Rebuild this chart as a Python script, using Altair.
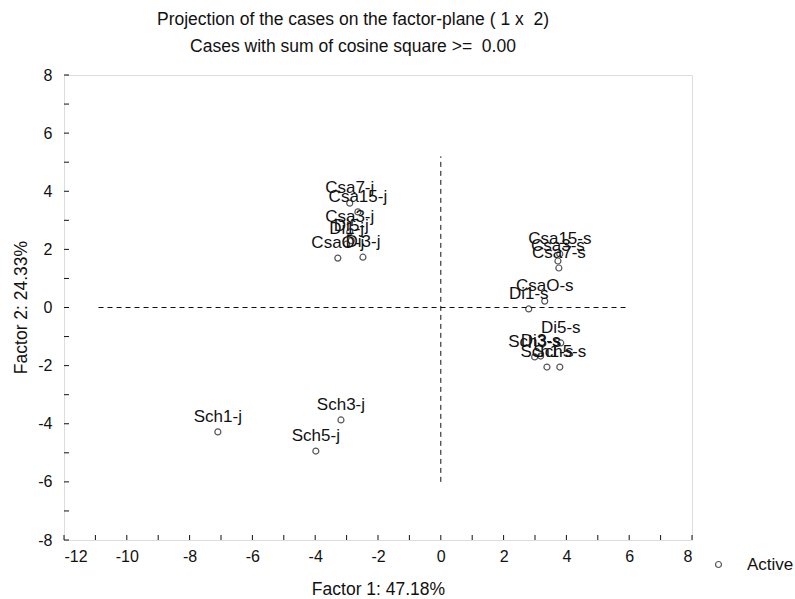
import altair as alt
import pandas as pd

# Case labels and their coordinates on factors 1 and 2
case_names = [
    "Sch1-j", "Sch3-j", "Sch5-j", "CsaO-j", "Di3-j",
    "Csa7-j", "Csa15-j", "Csa3-j", "Di5-j", "Di1-j",
    "Csa15-s", "Csa3-s", "Csa7-s", "CsaO-s", "Di1-s",
    "Di5-s", "Di3-s", "Sch3-s", "Sch1-s", "Sch5-s",
]
factor1 = [
    -7.10, -3.18, -3.98, -3.28, -2.48,
    -2.90, -2.64, -2.90, -2.85, -3.00,
    3.79, 3.73, 3.76, 3.31, 2.80,
    3.82, 3.18, 2.99, 3.38, 3.79,
]
factor2 = [
    -4.28, -3.87, -4.94, 1.70, 1.73,
    3.59, 3.29, 2.60, 2.30, 2.18,
    1.84, 1.60, 1.36, 0.22, -0.05,
    -1.22, -1.67, -1.70, -2.05, -2.05,
]
status = ["Active"] * len(case_names)

# Reference cross through the origin
h_line = {"x": -10.9, "x2": 6.0, "y": 0.0, "y2": 0.0}
v_line = {"x": 0.0, "x2": 0.0, "y": -6.0, "y2": 5.2}

x_ticks = list(range(-12, 9))
y_ticks = list(range(-8, 9))
x_labels = list(range(-12, 9, 2))
y_labels = list(range(-8, 9, 2))

NBSP = "\u00a0"
title_lines = [
    "Projection of the cases on the factor-plane ( 1 x" + NBSP + NBSP + "2)",
    "Cases with sum of cosine square >=" + NBSP + NBSP + "0.00",
]

FONT = "Liberation Sans"
INK = "#111111"

cases = pd.DataFrame({"name": case_names, "f1": factor1, "f2": factor2, "status": status})
cross = pd.DataFrame([h_line, v_line])
xt = pd.DataFrame({"v": x_ticks})
yt = pd.DataFrame({"v": y_ticks})

xscale = alt.Scale(domain=[-12, 8], nice=False, zero=False)
yscale = alt.Scale(domain=[-8, 8], nice=False, zero=False)

# plain hyphen for negative tick labels
plain_label = "'' + datum.value"

x_axis = alt.Axis(
    values=x_labels, ticks=False, domain=False, grid=False, labelExpr=plain_label,
    labelFont=FONT, labelFontSize=16, labelColor=INK, labelPadding=8,
    title="Factor 1: 47.18%", titleFont=FONT, titleFontSize=17.5,
    titleFontWeight="normal", titleColor=INK,
    titleX=314, titleY=54, titleBaseline="alphabetic",
)
y_axis = alt.Axis(
    values=y_labels, ticks=False, domain=False, grid=False, labelExpr=plain_label,
    labelFont=FONT, labelFontSize=16, labelColor=INK, labelPadding=12,
    title="Factor 2: 24.33%", titleFont=FONT, titleFontSize=17.5,
    titleFontWeight="normal", titleColor=INK,
    titleX=-38, titleY=232, titleAngle=270, titleBaseline="alphabetic",
)

points = alt.Chart(cases).mark_point(
    shape="circle", filled=False, size=36, strokeWidth=1.2
).encode(
    x=alt.X("f1:Q", scale=xscale, axis=x_axis),
    y=alt.Y("f2:Q", scale=yscale, axis=y_axis),
    color=alt.Color(
        "status:N",
        scale=alt.Scale(domain=["Active"], range=["#111111"]),
        legend=alt.Legend(
            title=None, orient="none", legendX=646, legendY=481,
            symbolType="circle", symbolSize=36, symbolStrokeWidth=1.2,
            labelFont=FONT, labelFontSize=17, labelColor=INK, labelOffset=20,
            padding=0,
        ),
    ),
)

labels = alt.Chart(cases).mark_text(
    font=FONT, fontSize=17, color=INK, align="center", baseline="alphabetic", dy=-10
).encode(
    x=alt.X("f1:Q", scale=xscale),
    y=alt.Y("f2:Q", scale=yscale),
    text="name:N",
)

dashed = alt.Chart(cross).mark_rule(
    color=INK, strokeWidth=1, strokeDash=[5, 4]
).encode(
    x=alt.X("x:Q", scale=xscale), x2="x2:Q",
    y=alt.Y("y:Q", scale=yscale), y2="y2:Q",
)

# Inward tick marks on the bottom and left frame edges
x_tick_marks = alt.Chart(xt).mark_rule(color=INK, strokeWidth=1).encode(
    x=alt.X("v:Q", scale=xscale), y=alt.value(465), y2=alt.value(460)
)
y_tick_marks = alt.Chart(yt).mark_rule(color=INK, strokeWidth=1).encode(
    y=alt.Y("v:Q", scale=yscale), x=alt.value(0), x2=alt.value(5)
)

chart = alt.layer(dashed, x_tick_marks, y_tick_marks, points, labels).properties(
    width=628,
    height=465,
    autosize=alt.AutoSizeParams(type="none"),
    padding={"left": 64, "top": 75, "right": 103, "bottom": 59},
    title=alt.TitleParams(
        text=title_lines,
        font=FONT, fontSize=17.5, fontWeight="normal", color=INK,
        anchor="middle", dx=-25, lineHeight=27, offset=12,
    ),
).configure_view(
    stroke="#111111", strokeWidth=1
).configure(background="white")

chart.save("out.html", embed_options={"renderer": "svg", "actions": False})
